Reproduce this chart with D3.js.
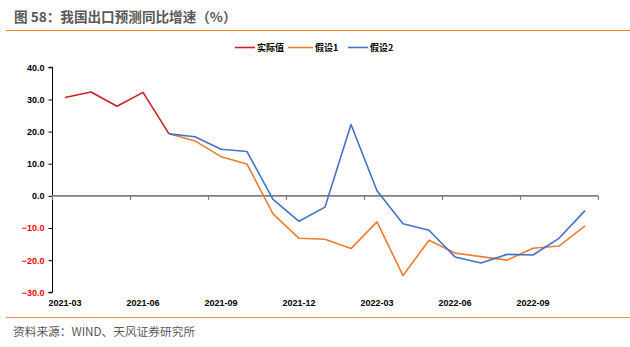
<!DOCTYPE html>
<html><head><meta charset="utf-8">
<script src="https://cdn.jsdelivr.net/npm/d3@7"></script>
<style>body{margin:0;background:#fff}svg{display:block}</style>
</head><body><svg id="c" width="630" height="347"></svg>
<script>
const months = ["2021-03","2021-04","2021-05","2021-06","2021-07","2021-08","2021-09","2021-10","2021-11","2021-12","2022-01","2022-02","2022-03","2022-04","2022-05","2022-06","2022-07","2022-08","2022-09","2022-10","2022-11"];
const actual = [30.6,32.3,27.9,32.2,19.3];
const scenario1 = [null,null,null,null,19.3,17.1,12.2,9.9,-5.6,-13.2,-13.5,-16.4,-8.1,-24.8,-13.8,-17.8,-18.9,-20.0,-16.3,-15.6,-9.3];
const scenario2 = [null,null,null,null,19.3,18.4,14.5,13.8,-1.1,-7.9,-3.5,22.2,1.6,-8.7,-10.7,-19.0,-20.9,-18.2,-18.4,-13.2,-4.6];
const yTicks = [40,30,20,10,0,-10,-20,-30];
const xLabels = ["2021-03","2021-06","2021-09","2021-12","2022-03","2022-06","2022-09"];
const seriesNames = ["实际值","假设1","假设2"];
const colors = ["#D02026","#ED7D31","#4472C4"];

const svg = d3.select("#c");
const cjk = "'Noto Sans CJK SC','Noto Sans',sans-serif";
const num = "'Liberation Sans','DejaVu Sans',sans-serif";

// header
svg.append("text").attr("x",14).attr("y",22).attr("font-family",cjk).attr("font-size",13.6).attr("font-weight","bold").attr("fill","#595959").text("图 58：我国出口预测同比增速（%）");
svg.append("line").attr("x1",6).attr("x2",630).attr("y1",30.5).attr("y2",30.5).attr("stroke","#F08519").attr("stroke-width",1.2);
svg.append("line").attr("x1",6).attr("x2",630).attr("y1",317.5).attr("y2",317.5).attr("stroke","#E8923A").attr("stroke-width",1.2);
svg.append("text").attr("x",13).attr("y",336).attr("font-family",cjk).attr("font-size",11.7).attr("fill","#595959").text("资料来源：WIND、天风证券研究所");

const x = d3.scaleBand().domain(months).range([52,598]).padding(0);
const xi = d3.scaleLinear().domain([0,months.length]).range([52,598]);
const y = d3.scaleLinear().domain([-30,40]).range([292.3,67.3]);
const cx = m => x(m)+x.bandwidth()/2;

// y axis
const ya = svg.append("g").attr("transform","translate(52.5,0)")
  .call(d3.axisLeft(y).tickValues(yTicks).tickSize(4).tickPadding(4).tickFormat(d3.format(".1f")));
ya.select(".domain").attr("stroke","#000").attr("d","M-4,"+y(40)+"H0V"+y(-30)+"H-4");
ya.selectAll(".tick line").attr("stroke","#000");
ya.selectAll(".tick text").attr("font-family",num).attr("font-size",9).attr("font-weight","bold")
  .attr("fill",d=>d<0?"#FF0000":"#000");

// zero line with ticks
const xa = svg.append("g").attr("transform","translate(0,"+y(0)+")")
  .call(d3.axisBottom(xi).tickValues(d3.range(0,months.length+1,3)).tickSize(4).tickFormat(""));
xa.select(".domain").attr("stroke","#7F7F7F").attr("stroke-width",1.8).attr("d","M52,0H598");
xa.selectAll(".tick line").attr("stroke","#7F7F7F").attr("stroke-width",1.2);

// x labels (at bottom, centred on their month)
svg.append("g").selectAll("text").data(xLabels).join("text")
  .attr("x",d=>cx(d)).attr("y",306).attr("text-anchor","middle")
  .attr("font-family",num).attr("font-size",9).attr("font-weight","bold").attr("fill","#000").text(d=>d);

// lines
const line = d3.line().defined(d=>d[1]!=null).x(d=>cx(d[0])).y(d=>y(d[1]));
const data = [actual, scenario1, scenario2];
data.forEach((arr,k)=>{
  const pts = months.map((m,i)=>[m, i<arr.length?arr[i]:null]);
  svg.append("path").datum(pts).attr("d",line).attr("fill","none").attr("stroke",colors[k]).attr("stroke-width",1.6).attr("stroke-linejoin","round");
});

// legend
const legX = [235,288,348];
const lg = svg.append("g");
seriesNames.forEach((n,k)=>{
  lg.append("line").attr("x1",legX[k]).attr("x2",legX[k]+(k==1?25:20)).attr("y1",47.5).attr("y2",47.5).attr("stroke",colors[k]).attr("stroke-width",1.6);
  lg.append("text").attr("x",legX[k]+(k==1?27:22)).attr("y",51).attr("font-family",cjk).attr("font-size",9).attr("font-weight","bold").attr("fill","#000").text(n);
});
</script></body></html>
